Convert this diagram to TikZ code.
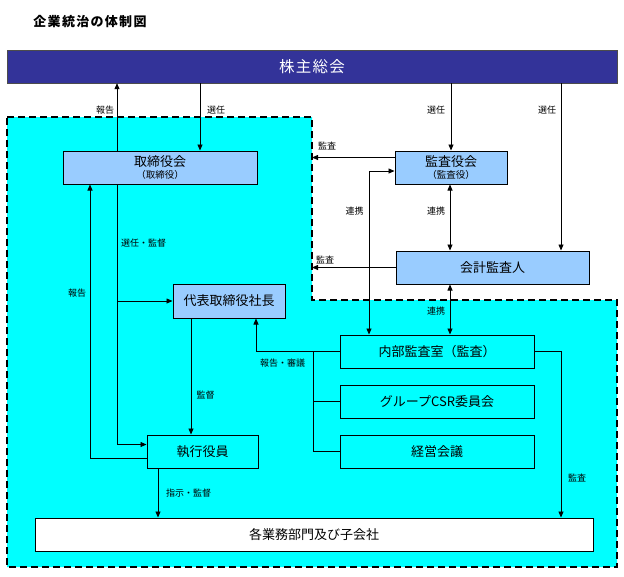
\documentclass[tikz,border=0pt]{standalone}
\usepackage{fontspec}
\setmainfont{Noto Sans CJK JP}
\usetikzlibrary{arrows.meta}
\definecolor{kabublu}{HTML}{333399}
\definecolor{boxblu}{HTML}{99CCFF}
\definecolor{ciano}{HTML}{00FFFF}

\begin{document}
\begin{tikzpicture}[x=1pt,y=-1pt,font=\fontsize{9}{10}\selectfont,
  box/.style={draw,line width=1pt,minimum height=33pt,inner sep=0pt,font=\fontsize{13}{15}\selectfont},
  bluebox/.style={box,fill=boxblu},
  arr/.style={-{Triangle[length=6pt,width=5pt]},line width=.8pt},
  darr/.style={{Triangle[length=6pt,width=5pt]}-{Triangle[length=6pt,width=5pt]},line width=.8pt},
  ln/.style={line width=.8pt}]
\useasboundingbox (0,0) rectangle (624,576);

%titolo
\node[font=\fontsize{13}{15}\selectfont\bfseries\addfontfeatures{LetterSpace=10}] (titolo) at (90,22) {企業統治の体制図};

%area ciano
\draw[fill=ciano,line width=1.8pt,dash pattern=on 7pt off 4pt]
  (7,117) -- (312,117) -- (312,300) -- (617,300) -- (617,567) -- (7,567) -- cycle;
\coordinate (bordo) at (312,300);
\coordinate (ramo) at (313,0);

%azionisti
\node[draw=gray!60!black,fill=kabublu,text=white,minimum width=610pt,minimum height=33pt,
  font=\fontsize{15.5}{17}\selectfont\addfontfeatures{LetterSpace=8}] (kabu) at (312,66.5) {株主総会};

%riquadri
\node[bluebox,minimum width=194pt,align=center] (tori) at (160,167.5)
  {取締役会\\[-3pt]{\fontsize{9.5}{11}\selectfont （取締役）}};
\node[bluebox,minimum width=112pt,align=center] (kansa) at (451,167.5)
  {監査役会\\[-3pt]{\fontsize{9.5}{11}\selectfont （監査役）}};
\node[bluebox,minimum width=193pt] (kaikei) at (492.5,267.5) {会計監査人};
\node[bluebox,minimum width=112pt,minimum height=34pt] (daihyo) at (229,301) {代表取締役社長};
\node[box,minimum width=194pt] (naibu) at (437,351.5) {内部監査室（監査）};
\node[box,minimum width=194pt] (csr) at (437,401.5) {グループCSR委員会};
\node[box,minimum width=194pt] (keiei) at (437,451.5) {経営会議};
\node[box,minimum width=111pt] (shikko) at (202.5,451.5) {執行役員};
\node[box,fill=white,minimum width=558pt] (kaku) at (314,534.5) {各業務部門及び子会社};

%frecce verso gli azionisti
\draw[arr] ([xshift=-43pt]tori.north) -- ([xshift=-43pt]tori.north |- kabu.south);
\draw[arr] ([xshift=40pt]tori.north |- kabu.south) -- ([xshift=40pt]tori.north);
\draw[arr] (kansa.north |- kabu.south) -- (kansa.north);
\draw[arr] ([xshift=68.5pt]kaikei.north |- kabu.south) -- ([xshift=68.5pt]kaikei.north);

%sindaci e revisori
\draw[arr] ([yshift=10pt]kansa.west) -- ([yshift=10pt]kansa.west -| bordo);
\draw[arr] (kaikei.west) -- (kaikei.west -| bordo);
\draw[darr] ([xshift=-68pt]naibu.north) |- ([yshift=-3.5pt]kansa.west);
\draw[darr] ([xshift=-1pt]kansa.south) -- ([xshift=-1pt]kansa.south |- kaikei.north);
\draw[darr] ([xshift=-1pt]kansa.south |- kaikei.south) -- ([xshift=-1pt]kansa.south |- naibu.north);

%consiglio ed esecutivi
\draw[arr] ([xshift=-43pt]tori.south) |- ([yshift=7pt]shikko.west);
\draw[arr] ([xshift=-43pt]tori.south |- daihyo.west) -- (daihyo.west);
\draw[arr] ([yshift=-6.5pt]shikko.west) -| ([xshift=-70pt]tori.south);
\draw[arr] ([xshift=-38pt]daihyo.south) -- ([xshift=-38pt]daihyo.south |- shikko.north);
\draw[arr] ([xshift=-44.5pt]shikko.south) -- ([xshift=-44.5pt]shikko.south |- kaku.north);

%audit interno
\draw[arr] (naibu.west) -| ([xshift=27pt]daihyo.south);
\draw[ln] (naibu.west -| ramo) |- (keiei.west);
\draw[ln] (csr.west -| ramo) -- (csr.west);
\draw[arr] (naibu.east) -| ([xshift=247pt]kaku.north);

%etichette
\node (e1) at (105,110) {報告};
\node (e2) at (216,110) {選任};
\node (e3) at (436,110) {選任};
\node (e4) at (547,110) {選任};
\node (e5) at (327,146) {監査};
\node (e6) at (325,260) {監査};
\node (e7) at (354.5,211) {連携};
\node (e8) at (436,211) {連携};
\node (e9) at (436,311) {連携};
\node (e10) at (143.5,243) {選任・監督};
\node (e11) at (77,293) {報告};
\node (e12) at (205.5,395) {監督};
\node (e13) at (282.5,363) {報告・審議};
\node (e14) at (577,478) {監査};
\node (e15) at (188.5,493) {指示・監督};

\end{tikzpicture}
\end{document}
